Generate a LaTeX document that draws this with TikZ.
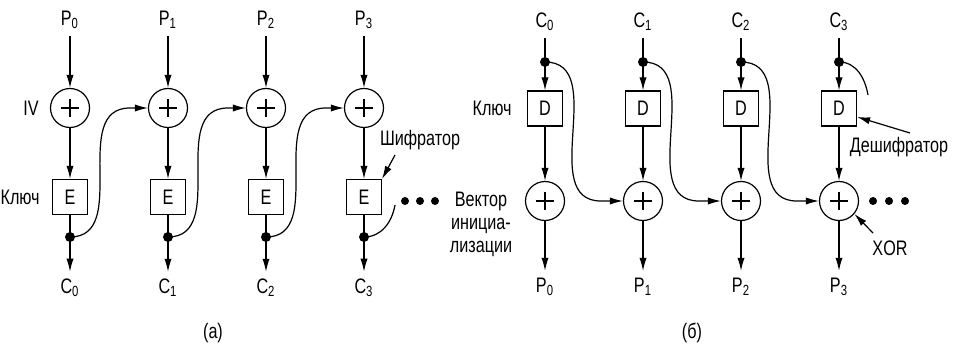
\documentclass[tikz,border=0pt]{standalone}
\usepackage{fontspec}
\setmainfont{Liberation Sans}[FakeStretch=0.77]
\usetikzlibrary{positioning, arrows.meta}

\begin{document}
\begin{tikzpicture}[
    x=0.5pt, y=-0.5pt,
    >={Latex[length=6.5pt,width=3.6pt]},
    line width=0.6pt,
    every node/.style={font=\fontsize{10.5}{11.5}\selectfont},
    xorgate/.style={
        draw, circle, minimum size=19.5pt, inner sep=0pt,
        path picture={
            \draw ([xshift=-4.4pt]path picture bounding box.center) -- ([xshift=4.4pt]path picture bounding box.center);
            \draw ([yshift=-4.4pt]path picture bounding box.center) -- ([yshift=4.4pt]path picture bounding box.center);
        }
    },
    cipher/.style={draw, rectangle, minimum size=17.5pt, inner sep=0pt},
    link/.style={->},
    feed/.style={out=0, in=180, looseness=1.1}
]

\useasboundingbox (0,0) rectangle (956,347);

% -------------------------
% (a) Encryption chain
% -------------------------

% Column 0
\node (pa0) at (70,20) {P\textsubscript{0}};
\node[xorgate] (xa0) at (70,108) {};
\node[cipher] (ea0) at (70,197) {E};
\coordinate (da0) at (70,237);
\node (ca0) at (70,288) {C\textsubscript{0}};

% Column 1
\node (pa1) at (168,20) {P\textsubscript{1}};
\node[xorgate] (xa1) at (168,108) {};
\node[cipher] (ea1) at (168,197) {E};
\coordinate (da1) at (168,237);
\node (ca1) at (168,288) {C\textsubscript{1}};

% Column 2
\node (pa2) at (266,20) {P\textsubscript{2}};
\node[xorgate] (xa2) at (266,108) {};
\node[cipher] (ea2) at (266,197) {E};
\coordinate (da2) at (266,237);
\node (ca2) at (266,288) {C\textsubscript{2}};

% Column 3
\node (pa3) at (364,20) {P\textsubscript{3}};
\node[xorgate] (xa3) at (364,108) {};
\node[cipher] (ea3) at (364,197) {E};
\coordinate (da3) at (364,237);
\node (ca3) at (364,288) {C\textsubscript{3}};

% Labels
\node[left=2pt of xa0] (iv) {IV};
\node[left=2.5pt of ea0] (keya) {Ключ};
\node (shif) at (420,140) {Шифратор};
\coordinate (shiftail) at (395,155);
\coordinate (enda) at (395,205);
\node (capa) at (213,333) {(а)};

% Connections
\draw[link] (pa0) -- (xa0); \draw[link] (xa0) -- (ea0); \draw[link] (ea0) -- (ca0);
\draw[link] (pa1) -- (xa1); \draw[link] (xa1) -- (ea1); \draw[link] (ea1) -- (ca1);
\draw[link] (pa2) -- (xa2); \draw[link] (xa2) -- (ea2); \draw[link] (ea2) -- (ca2);
\draw[link] (pa3) -- (xa3); \draw[link] (xa3) -- (ea3); \draw[link] (ea3) -- (ca3);

\fill (da0) circle (5); \fill (da1) circle (5); \fill (da2) circle (5); \fill (da3) circle (5);

\draw[link] (da0) to[feed] ([xshift=-9pt]xa1.west) -- (xa1.west);
\draw[link] (da1) to[feed] ([xshift=-9pt]xa2.west) -- (xa2.west);
\draw[link] (da2) to[feed] ([xshift=-9pt]xa3.west) -- (xa3.west);
\draw (da3) to[out=0, in=-100] (enda);

\draw[link] (shiftail) -- (ea3.north east);

\fill (405,201) circle (4); \fill (420,201) circle (4); \fill (435,201) circle (4);

% -------------------------
% (b) Decryption chain
% -------------------------

% Column 0
\node (cb0) at (545,22) {C\textsubscript{0}};
\coordinate (db0) at (545,62);
\node[cipher] (dbox0) at (545,108.5) {D};
\node[xorgate] (xb0) at (545,201) {};
\node (pb0) at (545,287) {P\textsubscript{0}};

% Column 1
\node (cb1) at (643,22) {C\textsubscript{1}};
\coordinate (db1) at (643,62);
\node[cipher] (dbox1) at (643,108.5) {D};
\node[xorgate] (xb1) at (643,201) {};
\node (pb1) at (643,287) {P\textsubscript{1}};

% Column 2
\node (cb2) at (741,22) {C\textsubscript{2}};
\coordinate (db2) at (741,62);
\node[cipher] (dbox2) at (741,108.5) {D};
\node[xorgate] (xb2) at (741,201) {};
\node (pb2) at (741,287) {P\textsubscript{2}};

% Column 3
\node (cb3) at (839,22) {C\textsubscript{3}};
\coordinate (db3) at (839,62);
\node[cipher] (dbox3) at (839,108.5) {D};
\node[xorgate] (xb3) at (839,201) {};
\node (pb3) at (839,287) {P\textsubscript{3}};

% Labels
\node[left=4pt of dbox0] (keyb) {Ключ};
\node[align=center] (ivb) at (481,224) {Вектор\\инициа-\\лизации};
\node (deshif) at (899,147) {Дешифратор};
\coordinate (deshiftail) at (910,133);
\node (xor) at (890,248) {XOR};
\coordinate (xortail) at (873,233);
\coordinate (endb) at (868,95);
\node (capb) at (692,333) {(б)};

% Connections
\draw[link] (cb0) -- (dbox0); \draw[link] (dbox0) -- (xb0); \draw[link] (xb0) -- (pb0);
\draw[link] (cb1) -- (dbox1); \draw[link] (dbox1) -- (xb1); \draw[link] (xb1) -- (pb1);
\draw[link] (cb2) -- (dbox2); \draw[link] (dbox2) -- (xb2); \draw[link] (xb2) -- (pb2);
\draw[link] (cb3) -- (dbox3); \draw[link] (dbox3) -- (xb3); \draw[link] (xb3) -- (pb3);

\fill (db0) circle (5); \fill (db1) circle (5); \fill (db2) circle (5); \fill (db3) circle (5);

\draw[link] (db0) to[feed] ([xshift=-11pt]xb1.west) -- (xb1.west);
\draw[link] (db1) to[feed] ([xshift=-11pt]xb2.west) -- (xb2.west);
\draw[link] (db2) to[feed] ([xshift=-11pt]xb3.west) -- (xb3.west);
\draw (db3) to[out=0, in=100] (endb);

\draw[link] (deshiftail) -- (dbox3.-25);
\draw[link] (xortail) -- (xb3.-40);

\fill (873,201) circle (4); \fill (889,201) circle (4); \fill (905,201) circle (4);

\end{tikzpicture}
\end{document}
